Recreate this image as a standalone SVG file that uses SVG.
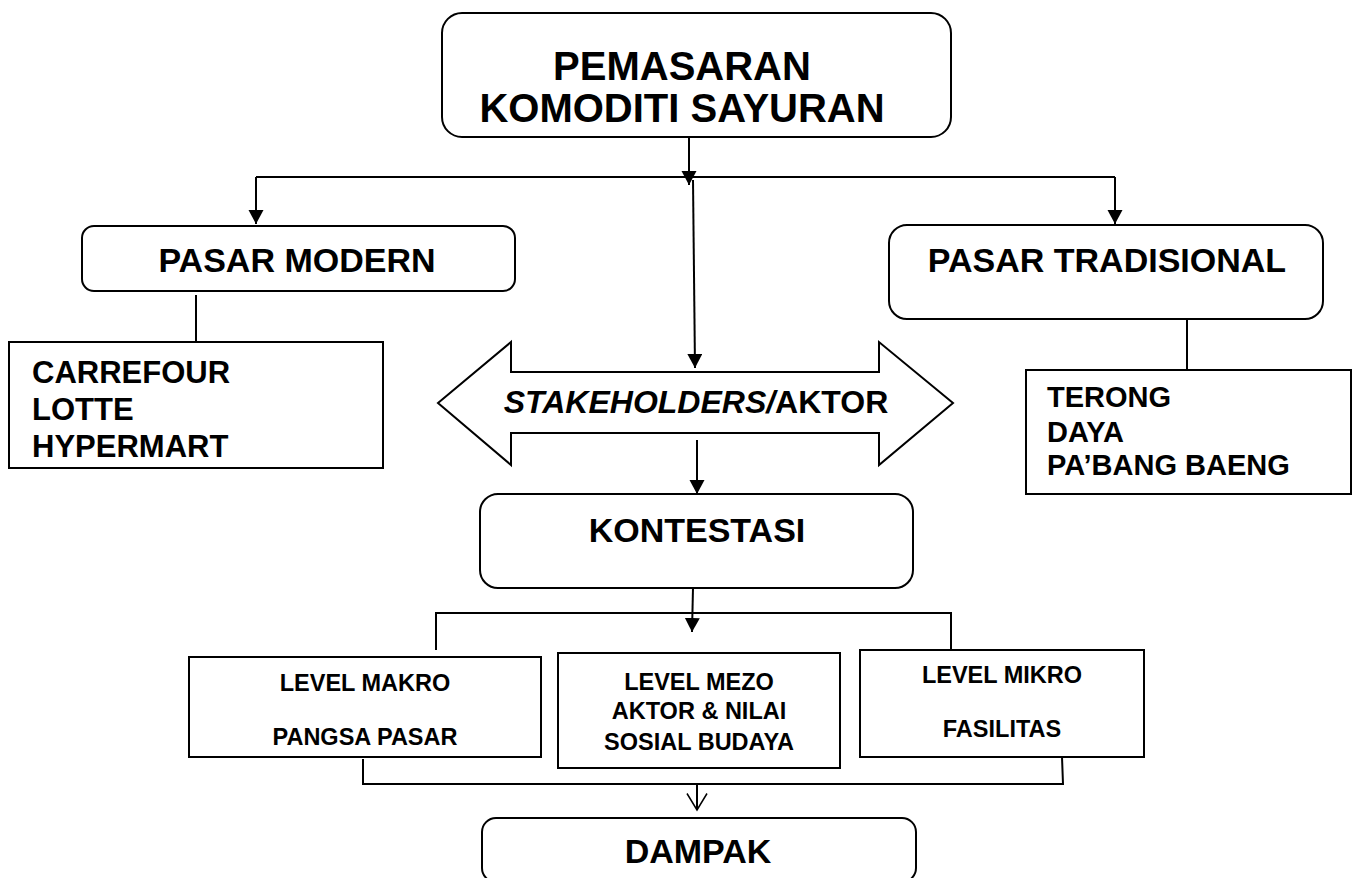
<svg xmlns="http://www.w3.org/2000/svg" width="1357" height="878" viewBox="0 0 1357 878">
<style>
  .box { fill: #fff; stroke: #000; stroke-width: 2; }
  .t { font-family: "Liberation Sans", Arial, sans-serif; font-weight: bold; fill: #000; }
  .c { text-anchor: middle; }
  .ln { stroke: #000; stroke-width: 2; fill: none; }
</style>
<defs>
  <marker id="ah" markerUnits="userSpaceOnUse" markerWidth="15" markerHeight="16" refX="14" refY="7.5" orient="auto">
    <path d="M0,0 L14,7.5 L0,15 Z" fill="#000"/>
  </marker>
  <marker id="ao" markerUnits="userSpaceOnUse" markerWidth="19" markerHeight="22" refX="17" refY="10.5" orient="auto">
    <path d="M0.5,0.5 L17,10.5 L0.5,20.5" fill="none" stroke="#000" stroke-width="1.5"/>
  </marker>
</defs>
<rect width="1357" height="878" fill="#fff"/>

<g id="connectors">
  <line class="ln" x1="689" y1="137" x2="689" y2="185" marker-end="url(#ah)"/>
  <line class="ln" x1="256" y1="177" x2="1115" y2="177"/>
  <line class="ln" x1="256" y1="177" x2="256" y2="224" marker-end="url(#ah)"/>
  <line class="ln" x1="1115" y1="177" x2="1115" y2="224" marker-end="url(#ah)"/>
  <line class="ln" x1="693" y1="180" x2="695" y2="368" marker-end="url(#ah)"/>
  <line class="ln" x1="196" y1="295" x2="196" y2="343"/>
  <line class="ln" x1="1187" y1="319" x2="1187" y2="370"/>
  <line class="ln" x1="697" y1="440" x2="697" y2="494" marker-end="url(#ah)"/>
  <line class="ln" x1="693" y1="588" x2="692" y2="632" marker-end="url(#ah)"/>
  <polyline class="ln" points="436,650 436,613 951,613 951,650"/>
  <polyline class="ln" points="363,759 363,784 1063,784 1062,757"/>
  <line class="ln" x1="697" y1="784" x2="697" y2="810" stroke-width="1.5" marker-end="url(#ao)"/>
</g>

<g id="node-pemasaran">
  <rect class="box" x="442" y="13" width="509" height="124" rx="20"/>
  <text class="t c" x="682" y="80" font-size="40">PEMASARAN</text>
  <text class="t c" x="682" y="122" font-size="40">KOMODITI SAYURAN</text>
</g>

<g id="node-pasar-modern">
  <rect class="box" x="82" y="226" width="433" height="65" rx="12"/>
  <text class="t c" x="297" y="272" font-size="34">PASAR MODERN</text>
</g>

<g id="node-pasar-tradisional">
  <rect class="box" x="889" y="225" width="434" height="94" rx="18"/>
  <text class="t c" x="1107" y="272" font-size="34">PASAR TRADISIONAL</text>
</g>

<g id="node-modern-list">
  <rect class="box" x="9" y="342" width="374" height="126"/>
  <text class="t" x="32" y="383" font-size="31">CARREFOUR</text>
  <text class="t" x="32" y="420" font-size="31">LOTTE</text>
  <text class="t" x="32" y="457" font-size="31">HYPERMART</text>
</g>

<g id="node-tradisional-list">
  <rect class="box" x="1026" y="370" width="325" height="124"/>
  <text class="t" x="1047" y="407" font-size="29">TERONG</text>
  <text class="t" x="1047" y="442" font-size="29">DAYA</text>
  <text class="t" x="1047" y="475" font-size="29">PA’BANG BAENG</text>
</g>

<g id="node-stakeholders">
  <polygon class="box" points="438,403 511,342 511,372 879,372 879,342 953,403 879,465 879,433 511,433 511,465"/>
  <text class="t c" x="696" y="413" font-size="32"><tspan font-style="italic">STAKEHOLDERS/</tspan>AKTOR</text>
</g>

<g id="node-kontestasi">
  <rect class="box" x="480" y="494" width="433" height="94" rx="18"/>
  <text class="t c" x="697" y="542" font-size="34">KONTESTASI</text>
</g>

<g id="node-makro">
  <rect class="box" x="189" y="657" width="352" height="100"/>
  <text class="t c" x="365" y="691" font-size="23.5">LEVEL MAKRO</text>
  <text class="t c" x="365" y="745" font-size="23.5">PANGSA PASAR</text>
</g>

<g id="node-mezo">
  <rect class="box" x="558" y="653" width="282" height="115"/>
  <text class="t c" x="699" y="690" font-size="23.5">LEVEL MEZO</text>
  <text class="t c" x="699" y="719" font-size="23.5">AKTOR &amp; NILAI</text>
  <text class="t c" x="699" y="750" font-size="23.5">SOSIAL BUDAYA</text>
</g>

<g id="node-mikro">
  <rect class="box" x="860" y="650" width="284" height="107"/>
  <text class="t c" x="1002" y="683" font-size="23.5">LEVEL MIKRO</text>
  <text class="t c" x="1002" y="737" font-size="23.5">FASILITAS</text>
</g>

<g id="node-dampak">
  <rect class="box" x="482" y="818" width="434" height="64" rx="14"/>
  <text class="t c" x="698" y="863" font-size="34">DAMPAK</text>
</g>
</svg>
